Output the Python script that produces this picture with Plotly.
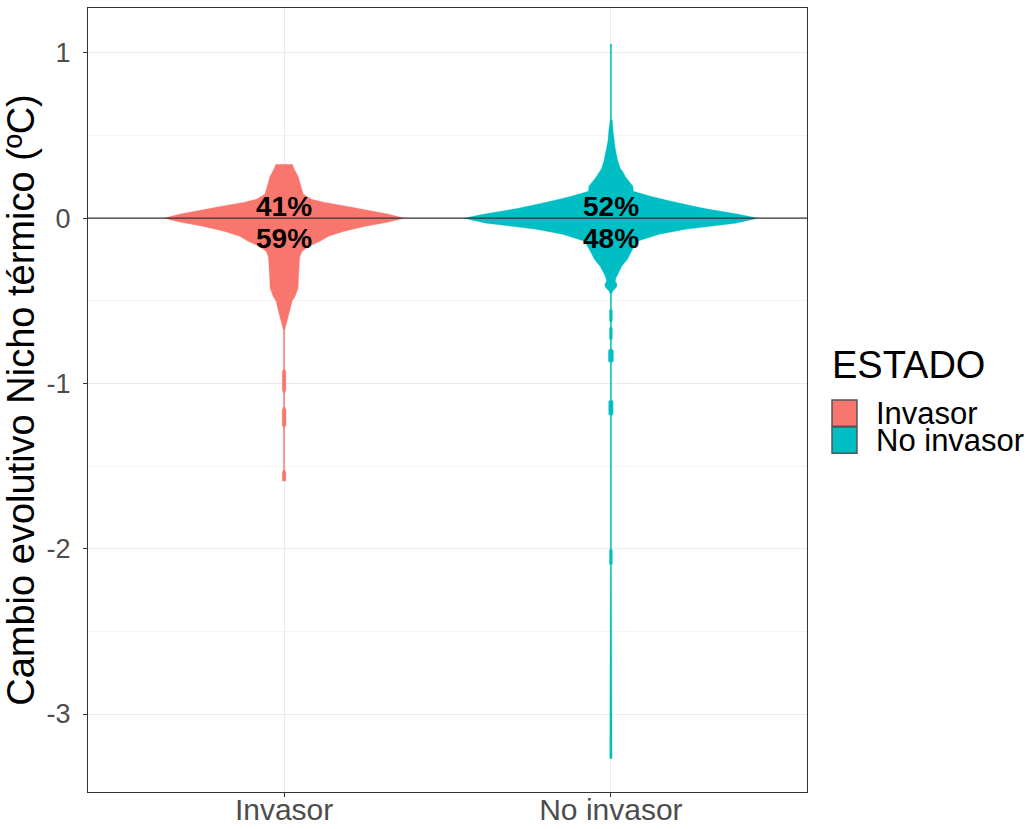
import plotly.graph_objects as go

# Groups and colours
grupos = ["Invasor", "No invasor"]
colores = ["#F8766D", "#00BFC4"]

# Kernel density profile of the thermal-niche change, per group:
# y = niche change (ºC), dens = density relative to the group's maximum
inv_y = [0.327, 0.30, 0.254, 0.194, 0.145, 0.115, 0.097, 0.073, 0.048, 0.024, 0.0,
         -0.024, -0.048, -0.079, -0.109, -0.139, -0.169, -0.2, -0.236, -0.278, -0.32,
         -0.363, -0.423, -0.472, -0.502, -0.544, -0.58, -0.623, -0.653, -0.68, -0.91,
         -0.93, -1.04, -1.06, -1.14, -1.16, -1.25, -1.27, -1.52, -1.54, -1.59]
inv_dens = [0.07, 0.083, 0.117, 0.14, 0.16, 0.23, 0.33, 0.52, 0.71, 0.875, 1.0,
            0.86, 0.68, 0.5, 0.37, 0.3, 0.21, 0.15, 0.13, 0.125, 0.125,
            0.12, 0.117, 0.092, 0.067, 0.054, 0.042, 0.025, 0.0125, 0.005, 0.005,
            0.015, 0.015, 0.005, 0.005, 0.016, 0.016, 0.005, 0.005, 0.015, 0.015]

noinv_y = [1.053, 1.03, 0.60, 0.59, 0.526, 0.47, 0.448, 0.40, 0.345, 0.30, 0.284,
           0.25, 0.194, 0.163, 0.133, 0.103, 0.06, 0.024, 0.0,
           -0.03, -0.067, -0.097, -0.139, -0.2, -0.248, -0.29, -0.339, -0.363,
           -0.381, -0.4, -0.418, -0.44, -0.46, -0.55, -0.56, -0.62, -0.63, -0.66,
           -0.665, -0.726, -0.74, -0.79, -0.80, -0.865, -0.875, -1.10, -1.107,
           -1.186, -1.195, -1.28, -1.29, -1.35, -1.36, -1.40, -1.41, -1.53,
           -1.54, -1.74, -1.75, -1.875, -1.885, -2.0, -2.01, -2.09, -2.10,
           -3.21, -3.22, -3.27]
noinv_dens = [0.007, 0.0045, 0.0045, 0.01, 0.015, 0.02, 0.026, 0.034, 0.048, 0.065, 0.08,
              0.1, 0.15, 0.153, 0.27, 0.41, 0.63, 0.87, 1.0,
              0.85, 0.51, 0.33, 0.18, 0.14, 0.113, 0.074, 0.045, 0.034,
              0.03, 0.042, 0.038, 0.013, 0.0045, 0.0045, 0.01, 0.01, 0.0045, 0.0045,
              0.01, 0.01, 0.0045, 0.0045, 0.017, 0.017, 0.0045, 0.0045, 0.015,
              0.015, 0.0045, 0.0045, 0.008, 0.008, 0.0045, 0.0045, 0.008, 0.008,
              0.0045, 0.0045, 0.009, 0.009, 0.0045, 0.0045, 0.01, 0.01, 0.0045,
              0.0045, 0.008, 0.008]

# Maximum half-width of each violin, in category units
ancho_max = [0.368, 0.45]

# Share of species with positive / negative change
pct_pos = [41, 52]
pct_neg = [59, 48]
pct_y = [0.068, -0.12]

perfiles = [(inv_y, inv_dens), (noinv_y, noinv_dens)]

FONT = "Liberation Sans, Arial"

fig = go.Figure()
for i, (ys, ds) in enumerate(perfiles):
    xc = i + 1
    w = ancho_max[i]
    xs = [xc + d * w for d in ds] + [xc - d * w for d in reversed(ds)]
    yy = list(ys) + list(reversed(ys))
    fig.add_trace(go.Scatter(
        x=xs, y=yy, mode="lines", fill="toself",
        fillcolor=colores[i], line=dict(color=colores[i], width=0.3),
        name=grupos[i], showlegend=False, hoverinfo="skip"))

# Zero reference line
fig.add_hline(y=0, line=dict(color="#333333", width=1.2))

# Percentage labels above and below zero
for i in range(len(grupos)):
    for val, yv in ((pct_pos[i], pct_y[0]), (pct_neg[i], pct_y[1])):
        fig.add_annotation(x=i + 1, y=yv, text=f"<b>{val}%</b>", showarrow=False,
                           font=dict(family=FONT, size=28, color="black"),
                           xanchor="center", yanchor="middle")

# Legend drawn as keys + labels
fig.add_annotation(xref="paper", yref="paper", x=1.032, y=0.545, text="ESTADO",
                   showarrow=False, xanchor="left", yanchor="middle",
                   font=dict(family=FONT, size=38, color="black"))
key_tops = [0.500, 0.4656]
key_h = 0.0335
for i, g in enumerate(grupos):
    fig.add_shape(type="rect", xref="paper", yref="paper",
                  x0=1.0348, x1=1.0695, y0=key_tops[i] - key_h, y1=key_tops[i],
                  fillcolor=colores[i], line=dict(color="#555555", width=1.5))
    fig.add_annotation(xref="paper", yref="paper", x=1.095, y=key_tops[i] - key_h / 2,
                       text=g, showarrow=False, xanchor="left", yanchor="middle",
                       borderpad=0,
                       font=dict(family=FONT, size=31, color="black"))

fig.update_layout(
    width=1032, height=829,
    margin=dict(l=88, r=225, t=8, b=37),
    paper_bgcolor="white", plot_bgcolor="white",
    font=dict(family=FONT),
    showlegend=False,
)
fig.update_xaxes(
    range=[0.4, 2.6], tickvals=[1, 2], ticktext=grupos, automargin=False,
    showgrid=True, gridcolor="#EBEBEB", gridwidth=1, zeroline=False,
    showline=True, linecolor="#333333", linewidth=1.2, mirror=True,
    ticks="outside", ticklen=4, tickcolor="#333333", ticklabelstandoff=-13,
    tickfont=dict(size=30, color="#4D4D4D"),
)
fig.update_yaxes(
    range=[-3.472, 1.272], tickvals=[1, 0, -1, -2, -3], ticktext=["1", "0", "-1", "-2", "-3"],
    automargin=False,
    showgrid=True, gridcolor="#EBEBEB", gridwidth=1, zeroline=False,
    minor=dict(tickvals=[0.5, -0.5, -1.5, -2.5], showgrid=True, gridcolor="#F5F5F5", gridwidth=1),
    showline=True, linecolor="#333333", linewidth=1.2, mirror=True,
    ticks="outside", ticklen=4, tickcolor="#333333", ticklabelstandoff=7,
    tickfont=dict(size=27, color="#4D4D4D"),
    title=dict(text="Cambio evolutivo Nicho térmico (ºC)", font=dict(size=38, color="black"), standoff=0),
)

fig.write_html("out.html")
